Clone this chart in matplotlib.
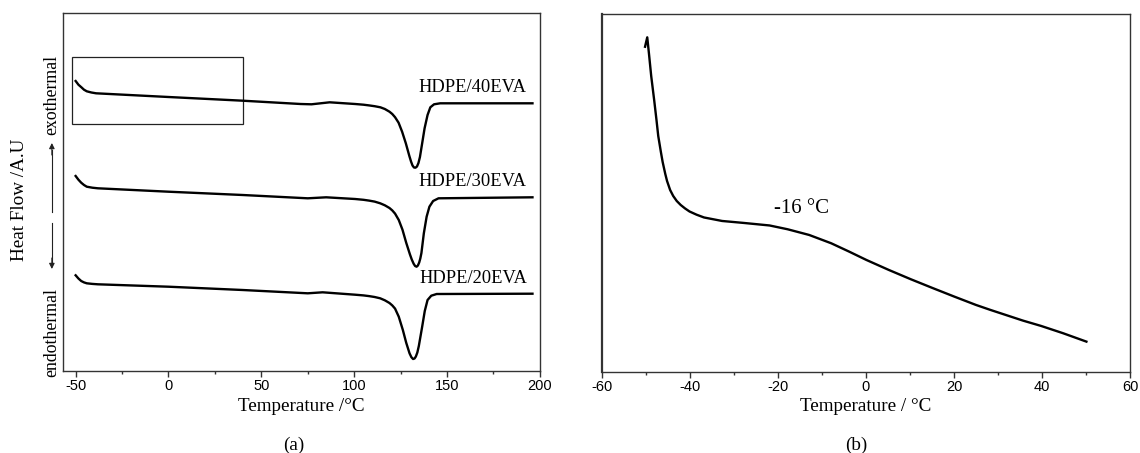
import matplotlib
matplotlib.use("Agg")
import matplotlib.pyplot as plt
from matplotlib.patches import Rectangle
from matplotlib.ticker import MultipleLocator

plt.rcParams["axes.unicode_minus"] = False

# (a) DSC curves, HDPE/EVA blends (heat flow in arbitrary units)
temp_40 = [-50, -48.5, -46.9, -45.5, -44, -41.5, -39, 0, 40, 71.2, 77, 86.8, 100.5, 105,
           108, 111, 114.1, 116.5, 119, 120.5, 122, 123.9, 125.8, 127.8, 129.7, 130.6,
           131.4, 132.2, 133, 133.8, 134.6, 135.4, 136.6, 137.9, 139.5, 141, 143, 146.3, 196]
hf_40 = [290, 286.3, 283.7, 281.3, 279.7, 278.5, 277.7, 274, 270.3, 267, 266.7, 268.7, 267,
         266.3, 265.6, 264.8, 263.7, 262, 259.3, 257, 253.8, 248.3, 239.3, 227.7, 215, 209.5,
         205.5, 203.5, 203.3, 204.5, 208, 214, 227.7, 242.7, 256, 263.7, 266.7, 267.7, 267.7]

temp_30 = [-50, -48.5, -47, -45.5, -44, -41, -38, 0, 40, 75, 84.9, 100.5, 105, 108, 111,
           114, 116.5, 119, 120.5, 122, 124, 126, 128, 130, 131, 132, 132.8, 133.6, 134.3,
           135, 135.6, 136.2, 137.5, 139, 140.5, 142.5, 145.4, 196]
hf_30 = [195, 191.3, 188.3, 186, 184.3, 183.3, 182.7, 179.3, 176, 172.7, 173.7, 172, 171.2,
         170.4, 169.4, 167.7, 165.7, 163, 160.6, 157.4, 151, 141.3, 128.3, 116.7, 111.5,
         107.3, 105, 104.3, 105.5, 108.5, 112.5, 118, 137.7, 154.3, 164.3, 170, 172.7, 173.7]

temp_20 = [-50, -48.5, -47, -45.5, -44, -41, -38, 0, 40, 75, 83, 100.5, 105, 108, 111, 114,
           116.5, 119, 120.5, 122, 124, 126.2, 128, 129.8, 130.8, 131.7, 132.5, 133.2, 134,
           134.8, 136.6, 138, 139.5, 141.5, 144.4, 196]
hf_20 = [95.7, 92.5, 90, 88.6, 87.7, 87.1, 86.7, 84.3, 81, 77.7, 78.7, 76.3, 75.6, 74.9,
         74, 72.7, 70.7, 68, 65.6, 62.4, 54.3, 41, 28.3, 17.7, 13.8, 12, 12.5, 14.5, 18.5,
         25, 44.3, 60, 71, 75.3, 77, 77.3]

labels_a = ["HDPE/40EVA", "HDPE/30EVA", "HDPE/20EVA"]
label_y = [283.5, 189.5, 93]

# (b) glass transition region
temp_b = [-50.2, -49.7, -49.3, -48.8, -48.1, -47.6, -47.2, -46.6, -46.2, -45.6, -45.2,
          -44.5, -43.8, -43, -42.1, -41.1, -40.1, -38.5, -36.8, -32.7, -27.7, -21.9, -17.8,
          -12.9, -7.9, -3.8, 0.1, 5.2, 10.2, 15.1, 20.1, 25, 28.3, 35.7, 39.8, 44.8, 50.1]
hf_b = [325.3, 334.7, 318, 296, 271, 252, 236, 220, 210, 198, 191, 182, 176, 171, 167,
        163.5, 160.5, 157.3, 154.5, 151, 149, 146.5, 142.7, 137, 128.7, 120.3, 112, 102,
        92.7, 84, 75.3, 67, 62, 51.3, 46, 38.7, 30.3]

serif = "Liberation Serif"
sans = "Liberation Sans"

fig = plt.figure(figsize=(11.4, 4.53), dpi=100)
ax1 = fig.add_axes([0.0556, 0.181, 0.418, 0.7903])
ax2 = fig.add_axes([0.528, 0.179, 0.4632, 0.790])

for ax in (ax1, ax2):
    for s in ax.spines.values():
        s.set_linewidth(1.0)
        s.set_color("#333333")
    ax.set_yticks([])
    ax.tick_params(axis="x", which="major", direction="out", length=4, width=1,
                   labelsize=10.5, pad=2, color="#333333")
    ax.tick_params(axis="x", which="minor", direction="out", length=2.5, width=1,
                   color="#333333")
ax2.spines["left"].set_linewidth(1.6)

# panel (a)
ax1.plot(temp_40, hf_40, color="black", lw=1.7)
ax1.plot(temp_30, hf_30, color="black", lw=1.7)
ax1.plot(temp_20, hf_20, color="black", lw=1.7)
ax1.set_xlim(-56.6, 200)
ax1.set_ylim(0, 358)
ax1.xaxis.set_major_locator(MultipleLocator(50))
ax1.xaxis.set_minor_locator(MultipleLocator(25))
for lab in ax1.get_xticklabels():
    lab.set_fontfamily(sans)
for txt, yy in zip(labels_a, label_y):
    ax1.text(193, yy, txt, ha="right", va="center", fontsize=13.3, family=serif)
ax1.add_patch(Rectangle((-52.1, 247), 92.1, 66.7, fill=False, lw=0.9, ec="#222222"))
ax1.set_xlabel("Temperature /°C", fontsize=13.8, family=serif, labelpad=3)

ax_x = 0.0455
fig.text(0.0175, 0.558, "Heat Flow /A.U", rotation=90, ha="center", va="center",
         fontsize=13.8, family=serif)
fig.text(ax_x, 0.79, "exothermal", rotation=90, ha="center", va="center",
         fontsize=12.8, family=serif)
fig.text(ax_x, 0.267, "endothermal", rotation=90, ha="center", va="center",
         fontsize=12.8, family=serif)
fig.add_artist(plt.Line2D([ax_x, ax_x], [1 - 212 / 453, 1 - 150 / 453],
                          transform=fig.transFigure, color="#222222", lw=0.8))
fig.add_artist(plt.Line2D([ax_x, ax_x], [1 - 223 / 453, 1 - 263 / 453],
                          transform=fig.transFigure, color="#222222", lw=0.8))
ax1.annotate("", xy=(ax_x, 1 - 143 / 453), xytext=(ax_x, 1 - 155 / 453),
             xycoords="figure fraction",
             arrowprops=dict(arrowstyle="-|>", color="#222222", lw=0.8,
                             mutation_scale=8, shrinkA=0, shrinkB=0))
ax1.annotate("", xy=(ax_x, 1 - 269 / 453), xytext=(ax_x, 1 - 258 / 453),
             xycoords="figure fraction",
             arrowprops=dict(arrowstyle="-|>", color="#222222", lw=0.8,
                             mutation_scale=8, shrinkA=0, shrinkB=0))
fig.text(0.2575, 0.018, "(a)", ha="center", va="center", fontsize=13.8, family=serif)

# panel (b)
ax2.plot(temp_b, hf_b, color="black", lw=1.7)
ax2.set_xlim(-60, 60)
ax2.set_ylim(0, 358)
ax2.xaxis.set_major_locator(MultipleLocator(20))
ax2.xaxis.set_minor_locator(MultipleLocator(10))
for lab in ax2.get_xticklabels():
    lab.set_fontfamily(sans)
ax2.text(-20.9, 163, "-16 °C", ha="left", va="center", fontsize=15, family=serif)
ax2.set_xlabel("Temperature / °C", fontsize=13.8, family=serif, labelpad=3)
fig.text(0.751, 0.018, "(b)", ha="center", va="center", fontsize=13.8, family=serif)

fig.savefig("out.png", dpi=100)
